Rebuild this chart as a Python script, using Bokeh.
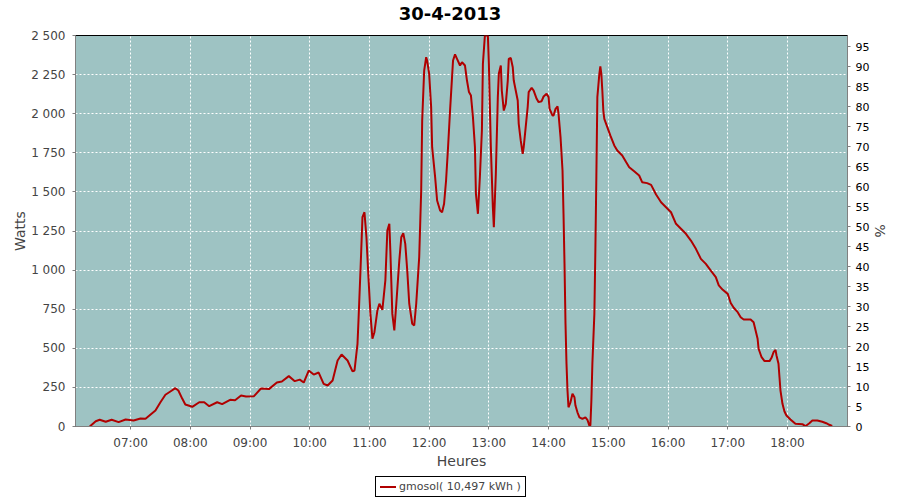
import pandas as pd
from bokeh.plotting import figure
from bokeh.layouts import column
from bokeh.models import (Range1d, LinearAxis, FixedTicker, CustomJSTickFormatter,
                          DatetimeTickFormatter, Div)
from bokeh.embed import file_html
from bokeh.resources import INLINE

day = "2013-04-30"
title_text = "30-4-2013"
series_name = "gmosol( 10,497 kWh )"
x_start, x_end = "06:04:40", "19:00:20"

times = [
    "06:19", "06:25", "06:29", "06:35", "06:41", "06:48", "06:55", "07:03", "07:10", "07:15",
    "07:25", "07:30", "07:35", "07:40", "07:45", "07:48", "07:52", "07:55", "08:02", "08:09",
    "08:14", "08:19", "08:27", "08:32", "08:40", "08:45", "08:51", "08:56", "09:04", "09:11",
    "09:19", "09:27", "09:32", "09:39", "09:45", "09:50", "09:54", "09:59", "10:04", "10:09",
    "10:14", "10:18", "10:23", "10:28", "10:32", "10:38", "10:43", "10:45", "10:48", "10:49",
    "10:51", "10:53", "10:55", "10:57", "10:59", "11:01", "11:03", "11:05", "11:08", "11:10",
    "11:13", "11:16", "11:18", "11:20", "11:21", "11:23", "11:25", "11:27", "11:30", "11:32",
    "11:34", "11:36", "11:38", "11:40", "11:43", "11:45", "11:47", "11:50", "11:52", "11:53",
    "11:55", "11:57", "11:58", "12:00", "12:02", "12:03", "12:06", "12:08", "12:11", "12:13",
    "12:15", "12:17", "12:19", "12:21", "12:23", "12:24", "12:26", "12:28", "12:31", "12:33",
    "12:36", "12:38", "12:40", "12:42", "12:44", "12:46", "12:47", "12:49", "12:51", "12:53",
    "12:54", "12:56", "12:59", "13:00", "13:02", "13:04", "13:05", "13:07", "13:09", "13:10",
    "13:12", "13:13", "13:15", "13:17", "13:19", "13:20", "13:22", "13:24", "13:25", "13:27",
    "13:29", "13:30", "13:32", "13:34", "13:35", "13:37", "13:39", "13:40", "13:43", "13:45",
    "13:48", "13:50", "13:53", "13:55", "13:58", "14:00", "14:01", "14:04", "14:05", "14:07",
    "14:09", "14:10", "14:12", "14:14", "14:15", "14:16", "14:17", "14:18", "14:19", "14:20",
    "14:22", "14:24", "14:26", "14:27", "14:29", "14:31", "14:34", "14:37", "14:39", "14:41",
    "14:42", "14:43", "14:44", "14:46", "14:47", "14:48", "14:49", "14:51", "14:52", "14:53",
    "14:54", "14:55", "14:56", "14:59", "15:02", "15:06", "15:09", "15:14", "15:18", "15:21",
    "15:26", "15:31", "15:34", "15:39", "15:43", "15:48", "15:53", "15:58", "16:03", "16:08",
    "16:13", "16:18", "16:23", "16:28", "16:33", "16:38", "16:43", "16:48", "16:51", "16:55",
    "17:00", "17:03", "17:06", "17:10", "17:13", "17:16", "17:23", "17:26", "17:28", "17:30",
    "17:31", "17:34", "17:37", "17:42", "17:44", "17:46", "17:48", "17:49", "17:51", "17:52",
    "17:53", "17:55", "17:57", "17:59", "18:03", "18:08", "18:15", "18:18", "18:22", "18:25",
    "18:30", "18:35", "18:39", "18:42", "18:45",
]

watts = [
    0, 34, 43, 30, 43, 28, 45, 38, 51, 49,
    102, 155, 203, 224, 245, 230, 177, 141, 126, 155,
    155, 130, 155, 143, 171, 168, 198, 192, 194, 243,
    239, 281, 288, 322, 290, 300, 281, 358, 332, 345,
    273, 262, 294, 422, 460, 422, 352, 358, 529, 678,
    997, 1338, 1370, 1210, 955, 720, 561, 603, 742, 785,
    746, 934, 1253, 1296, 1125, 720, 614, 785, 1061, 1210,
    1236, 1168, 997, 785, 657, 646, 785, 1083, 1509, 1957,
    2276, 2361, 2340, 2255, 2042, 1786, 1594, 1445, 1381, 1370,
    1424, 1573, 1786, 2020, 2234, 2340, 2379, 2351, 2308, 2329,
    2308, 2212, 2138, 2116, 1978, 1786, 1488, 1360, 1600, 1893,
    2319, 2500, 2500, 2319, 1786, 1402, 1274, 1616, 2106, 2255,
    2308, 2148, 2020, 2063, 2212, 2351, 2357, 2297, 2212, 2148,
    2084, 1935, 1829, 1744, 1786, 1914, 2042, 2138, 2166, 2148,
    2095, 2074, 2080, 2110, 2127, 2106, 2031, 1988, 1988, 2031,
    2046, 1999, 1850, 1637, 1360, 1040, 657, 401, 230, 123,
    155, 209, 187, 134, 91, 59, 49, 59, 43, 6,
    6, 166, 401, 720, 1125, 1600, 2106, 2255, 2302, 2255,
    2148, 2020, 1967, 1914, 1861, 1797, 1765, 1733, 1690, 1658,
    1632, 1605, 1562, 1556, 1545, 1483, 1434, 1402, 1370, 1296,
    1264, 1232, 1189, 1136, 1072, 1040, 997, 955, 902, 874,
    848, 790, 759, 731, 699, 684, 684, 667, 614, 561,
    497, 443, 418, 418, 439, 475, 490, 454, 401, 315,
    230, 145, 96, 70, 45, 17, 15, 2, 21, 38,
    38, 30, 21, 11, 4,
]

x_tick_labels = ["07:00", "08:00", "09:00", "10:00", "11:00", "12:00",
                 "13:00", "14:00", "15:00", "16:00", "17:00", "18:00"]
watt_ticks = [0, 250, 500, 750, 1000, 1250, 1500, 1750, 2000, 2250, 2500]
watt_max = 2500
pct_ticks = [0, 5, 10, 15, 20, 25, 30, 35, 40, 45, 50, 55, 60, 65, 70, 75, 80, 85, 90, 95]
pct_max = 97.75

FONT = "DejaVu Sans"
BG = "#9ec3c3"
LINE = "#b00000"
AXIS = "#808080"
TXT = "#444444"

t = pd.to_datetime([f"{day} {s}" for s in times])
x_tick_ms = [pd.Timestamp(f"{day} {s}").value / 1e6 for s in x_tick_labels]

title_div = Div(
    text=f'<div style="width:900px;text-align:center;font-family:\'{FONT}\';font-size:18px;'
         f'font-weight:bold;color:black;line-height:20px;padding-top:4px;">{title_text}</div>',
    width=900, height=27, margin=(0, 0, 0, 0))

p = figure(frame_width=772, frame_height=391, title=None,
           x_axis_type="datetime",
           x_range=Range1d(pd.Timestamp(f"{day} {x_start}"), pd.Timestamp(f"{day} {x_end}")),
           y_range=Range1d(0, watt_max),
           output_backend="svg", toolbar_location=None,
           min_border_left=75, min_border_right=53, min_border_top=8, min_border_bottom=49,
           background_fill_color=BG, border_fill_color="white", margin=(0, 0, 0, 0))

p.outline_line_color = "black"
p.outline_line_width = 1

r = p.line(t, watts, line_color=LINE, line_width=2)

# x axis
xt = FixedTicker(ticks=x_tick_ms)
p.xaxis.ticker = xt
p.xgrid.ticker = xt
fmt = "%H:%M"
p.xaxis.formatter = DatetimeTickFormatter(milliseconds=fmt, seconds=fmt, minsec=fmt, minutes=fmt,
                                          hourmin=fmt, hours=fmt, days=fmt, months=fmt, years=fmt)
p.xaxis.axis_label = "Heures"

# left axis
yt = FixedTicker(ticks=watt_ticks)
p.yaxis.ticker = yt
p.ygrid.ticker = yt
p.yaxis.formatter = CustomJSTickFormatter(
    code="return Math.round(tick).toString().replace(/\\B(?=(\\d{3})+(?!\\d))/g, ' ');")
p.yaxis.axis_label = "Watts"

# right axis
p.extra_y_ranges = {"pct": Range1d(0, pct_max)}
ra = LinearAxis(y_range_name="pct", ticker=FixedTicker(ticks=pct_ticks), axis_label="%")
p.add_layout(ra, "right")

for ax in [p.xaxis[0], p.yaxis[0], ra]:
    ax.axis_line_color = AXIS
    ax.major_tick_line_color = AXIS
    ax.minor_tick_line_color = None
    ax.major_tick_in = 0
    ax.major_tick_out = 3
    ax.major_label_text_font = FONT
    ax.major_label_text_font_size = "12px"
    ax.major_label_text_color = TXT
    ax.axis_label_text_font = FONT
    ax.axis_label_text_font_size = "14px"
    ax.axis_label_text_font_style = "normal"
    ax.axis_label_text_color = TXT

ra.major_label_text_color = "black"
ra.major_label_text_font_size = "11px"
ra.major_label_standoff = 5
p.yaxis[0].major_label_standoff = 7
p.xaxis[0].major_label_standoff = 6
p.xaxis[0].axis_label_standoff = 0
p.yaxis[0].axis_label_standoff = 0
ra.axis_label_standoff = 0

for g in [p.xgrid[0], p.ygrid[0]]:
    g.grid_line_color = "white"
    g.grid_line_dash = "2 2"
    g.grid_line_width = 1

legend_div = Div(
    text=(f'<div style="margin-left:375px;margin-top:1px;width:fit-content;height:21px;'
          f'padding-right:4px;border:1px solid black;background:white;display:flex;'
          f'align-items:center;font-family:\'{FONT}\';font-size:11px;color:{TXT};'
          f'white-space:nowrap;">'
          f'<span style="display:inline-block;flex:none;width:16px;height:2px;background:{LINE};'
          f'margin:0 3px 0 4px;"></span><span style="flex:none;">{series_name}</span></div>'),
    width=900, height=25, margin=(0, 0, 0, 0))

layout = column(title_div, p, legend_div, spacing=0)

open("out.html", "w").write(file_html(layout, INLINE))
